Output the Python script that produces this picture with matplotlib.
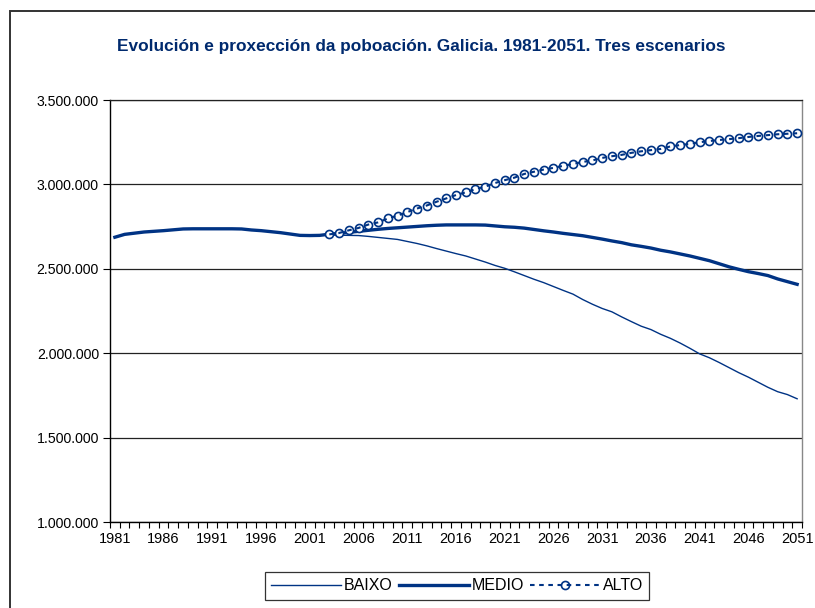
"""Evolucion e proxeccion da poboacion de Galicia 1981-2051 (tres escenarios)."""

import matplotlib
matplotlib.use("Agg")
import matplotlib.pyplot as plt
from matplotlib.patches import Rectangle
from matplotlib.ticker import FuncFormatter, MultipleLocator

# observed population 1981-2002 (millions)
hist_years = list(range(1981, 2003))
hist = [2.687, 2.704, 2.711, 2.718, 2.722, 2.726, 2.731, 2.736, 2.737, 2.737,
        2.737, 2.737, 2.737, 2.736, 2.730, 2.726, 2.720, 2.714, 2.706, 2.698,
        2.697, 2.698]

# projections 2003-2051 (millions)
proj_years = list(range(2003, 2052))
baixo = [2.700, 2.699, 2.698, 2.697, 2.692, 2.686, 2.680, 2.674, 2.662, 2.650,
         2.636, 2.620, 2.605, 2.590, 2.576, 2.558, 2.540, 2.520, 2.503, 2.482,
         2.460, 2.438, 2.418, 2.395, 2.372, 2.350, 2.318, 2.290, 2.265, 2.245,
         2.215, 2.187, 2.160, 2.140, 2.112, 2.088, 2.060, 2.029, 1.996, 1.973,
         1.945, 1.915, 1.885, 1.858, 1.828, 1.798, 1.772, 1.755, 1.730]
medio = [2.705, 2.710, 2.716, 2.722, 2.728, 2.734, 2.739, 2.743, 2.747, 2.751,
         2.755, 2.758, 2.760, 2.760, 2.760, 2.760, 2.759, 2.754, 2.749, 2.746,
         2.741, 2.733, 2.725, 2.718, 2.710, 2.703, 2.696, 2.686, 2.676, 2.665,
         2.655, 2.642, 2.633, 2.623, 2.610, 2.600, 2.588, 2.576, 2.562, 2.548,
         2.530, 2.512, 2.497, 2.483, 2.472, 2.460, 2.440, 2.424, 2.408]
alto = [2.704, 2.712, 2.728, 2.742, 2.762, 2.775, 2.798, 2.815, 2.836, 2.857,
        2.875, 2.897, 2.917, 2.937, 2.953, 2.972, 2.987, 3.008, 3.025, 3.040,
        3.062, 3.075, 3.088, 3.098, 3.110, 3.121, 3.133, 3.142, 3.157, 3.167,
        3.175, 3.187, 3.196, 3.203, 3.210, 3.225, 3.233, 3.240, 3.250, 3.257,
        3.263, 3.268, 3.274, 3.281, 3.287, 3.292, 3.297, 3.300, 3.303]

year_labels = list(range(1981, 2052, 5))

NAVY = "#003384"
TITLE = "#002A6E"
FONT = "Liberation Sans"

plt.rcParams["font.family"] = [FONT, "DejaVu Sans"]


def idx(years):
    return [y - 1981 for y in years]


fig = plt.figure(figsize=(8.15, 6.08), dpi=100)
ax = fig.add_axes([110 / 815, 1 - 522 / 608, 692 / 815, 422 / 608])

# chart area border (cut by the picture edge on the right and bottom)
fig.patches.append(Rectangle((10 / 815, -0.1), 1.0, 1 - 11 / 608 + 0.1,
                             transform=fig.transFigure, fill=False,
                             edgecolor="#333333", lw=1.4))

pop = lambda v: [x * 1e6 for x in v]

l_b, = ax.plot(idx(hist_years + proj_years), pop(hist + baixo), color=NAVY,
               lw=1.0, zorder=3)
l_m, = ax.plot(idx(hist_years + proj_years), pop(hist + medio), color=NAVY,
               lw=2.4, zorder=4)
# markers first, the dashed line runs across them
l_am, = ax.plot(idx(proj_years), pop(alto), ls="none", marker="o", ms=5.8,
                mfc="white", mec=NAVY, mew=1.2, zorder=5)
l_al, = ax.plot(idx(proj_years), pop(alto), color=NAVY, lw=1.5,
                ls=(0, (2.2, 2.2)), zorder=6)

ax.set_xlim(-0.5, 70.5)
ax.set_ylim(1e6, 3.5e6)

ax.yaxis.set_major_locator(MultipleLocator(5e5))
ax.yaxis.set_major_formatter(
    FuncFormatter(lambda v, p: f"{int(v):,}".replace(",", ".")))
ax.grid(axis="y", color="#222222", lw=0.9)
ax.set_axisbelow(True)

ax.set_xticks(idx(year_labels))
ax.set_xticklabels([str(y) for y in year_labels],
                   family=["Liberation Sans Narrow", FONT])
ax.set_xticks([i - 0.5 for i in range(72)], minor=True)
ax.tick_params(axis="x", which="major", length=0, pad=7, labelsize=10.5)
ax.tick_params(axis="x", which="minor", length=4, width=0.8, direction="out")
ax.tick_params(axis="y", length=5, width=0.8, direction="out", labelsize=10.2,
               pad=3)

for s in ["left", "bottom"]:
    ax.spines[s].set_color("black")
    ax.spines[s].set_linewidth(1.0)
ax.spines["top"].set_color("#222222")
ax.spines["top"].set_linewidth(0.9)
ax.spines["right"].set_color("#888888")
ax.spines["right"].set_linewidth(1.0)

fig.text(421 / 815, 1 - 47 / 608,
         "Evolución e proxección da poboación. Galicia. 1981-2051. Tres escenarios",
         ha="center", va="center", fontsize=12.4, fontweight="bold", color=TITLE)

leg = fig.legend([l_b, l_m, (l_am, l_al)], ["BAIXO", "MEDIO", "ALTO"],
                 loc="center", bbox_to_anchor=(457 / 815, 1 - 586 / 608),
                 ncol=3, frameon=True, fancybox=False, fontsize=11.5,
                 handlelength=4.4, handletextpad=0.15, columnspacing=0.4,
                 borderpad=0.4, borderaxespad=0)
leg.get_frame().set_edgecolor("black")
leg.get_frame().set_linewidth(0.9)

fig.savefig("out.png", dpi=100)
